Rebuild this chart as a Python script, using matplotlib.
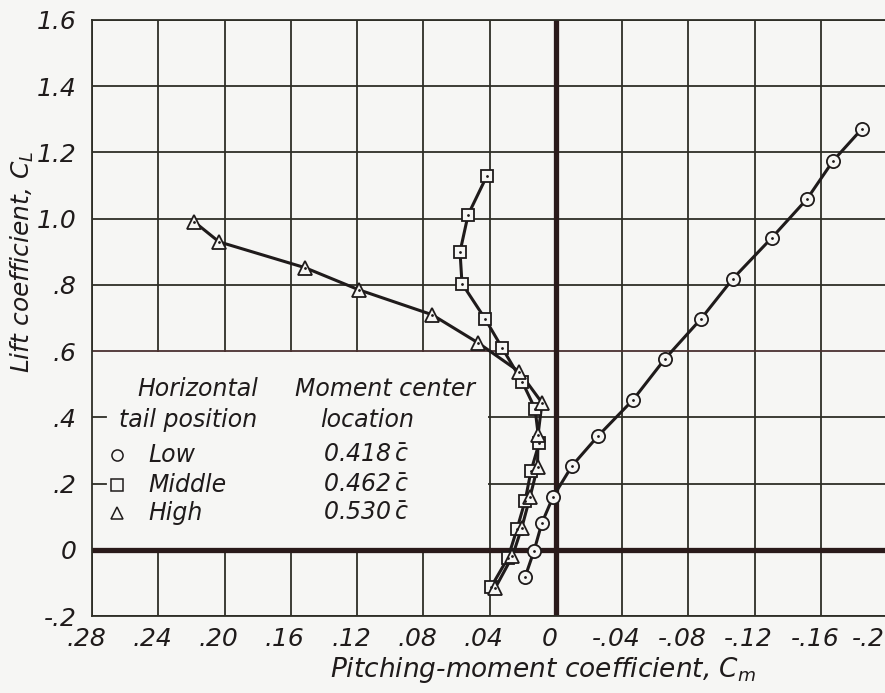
import matplotlib
matplotlib.use('Agg')
import matplotlib.pyplot as plt
from matplotlib.patches import Rectangle
from matplotlib.transforms import ScaledTranslation

# ---------------- data ----------------
low_cm = [0.0185, 0.0131, 0.0083, 0.0016, -0.0099, -0.0256, -0.0467, -0.0660,
          -0.0878, -0.1070, -0.1306, -0.1518, -0.1675, -0.1850]
low_cl = [-0.082, -0.003, 0.082, 0.160, 0.254, 0.344, 0.453, 0.577,
          0.698, 0.819, 0.943, 1.060, 1.175, 1.272]

mid_cm = [0.0390, 0.0288, 0.0234, 0.0185, 0.0149, 0.0100, 0.0125, 0.0203,
          0.0324, 0.0427, 0.0566, 0.0578, 0.0529, 0.0415]
mid_cl = [-0.112, -0.024, 0.063, 0.148, 0.239, 0.323, 0.426, 0.508,
          0.610, 0.698, 0.804, 0.900, 1.012, 1.130]

high_cm = [0.0365, 0.0262, 0.0205, 0.0155, 0.0110, 0.0107, 0.0083, 0.0221,
           0.0469, 0.0747, 0.1188, 0.1514, 0.2033, 0.2184]
high_cl = [-0.115, -0.020, 0.067, 0.160, 0.250, 0.347, 0.444, 0.538,
           0.625, 0.710, 0.785, 0.852, 0.930, 0.991]

x_ticks = [0.28, 0.24, 0.20, 0.16, 0.12, 0.08, 0.04, 0.0, -0.04, -0.08, -0.12, -0.16, -0.20]
x_tick_labels = ['.28', '.24', '.20', '.16', '.12', '.08', '.04', '0',
                 '-.04', '-.08', '-.12', '-.16', '-.2']
y_ticks = [-0.2, 0.0, 0.2, 0.4, 0.6, 0.8, 1.0, 1.2, 1.4, 1.6]
y_tick_labels = ['-.2', '0', '.2', '.4', '.6', '.8', '1.0', '1.2', '1.4', '1.6']

legend_names = ['Low', 'Middle', 'High']
legend_centers = [r'0.418$\,\bar{c}$', r'0.462$\,\bar{c}$', r'0.530$\,\bar{c}$']
legend_markers = ['o', 's', '^']

# ---------------- style ----------------
bg = '#f6f6f4'
ink = '#1f1b1b'
grid_c = '#2e2e26'
W, H = 885, 693

fig = plt.figure(figsize=(W / 100, H / 100), dpi=100)
fig.patch.set_facecolor(bg)
ax = fig.add_axes([92 / W, 1 - 616 / H, (887 - 92) / W, (616 - 20) / H])
ax.set_facecolor(bg)
ax.set_xlim(0.28, -0.20)
ax.set_ylim(-0.2, 1.6)

# grid
for xv in x_ticks:
    if xv != 0.0:
        ax.axvline(xv, color=grid_c, lw=1.3, zorder=1)
for yv in y_ticks:
    if yv != 0.0:
        ax.axhline(yv, color='#4a3030' if yv == 0.6 else grid_c, lw=1.3, zorder=1)

# blank area behind the key
ax.add_patch(Rectangle((0.0412, 0.004), 0.28 - 0.0412, 0.596 - 0.004,
                       facecolor=bg, edgecolor='none', zorder=1.5))
for yv in (0.2, 0.4):
    ax.plot([0.28, 0.2715], [yv, yv], color=grid_c, lw=1.3, zorder=1.6)

# heavy axes
ax.axhline(0.0, color='#2a1a1a', lw=3.8, zorder=2)
ax.axvline(0.0, color='#2a1a1a', lw=3.8, zorder=2)

for sp in ax.spines.values():
    sp.set_color(grid_c)
    sp.set_linewidth(1.3)

# curves
series = [(low_cm, low_cl, 'o', 9.5), (mid_cm, mid_cl, 's', 8.5), (high_cm, high_cl, '^', 9.5)]
for cm, cl, mk, ms in series:
    ax.plot(cm, cl, color=ink, lw=2.2, zorder=3)
for cm, cl, mk, ms in series:
    ax.plot(cm, cl, ls='none', marker=mk, ms=ms, mfc=bg, mec=ink, mew=1.3, zorder=4)
    ax.plot(cm, cl, ls='none', marker='.', ms=2, color=ink, zorder=5)

# ticks
ax.set_xticks(x_ticks)
ax.set_xticklabels(x_tick_labels)
ax.set_yticks(y_ticks)
ax.set_yticklabels(y_tick_labels)
ax.tick_params(axis='both', length=0, labelsize=18, colors=ink)
ax.tick_params(axis='x', pad=8)
ax.tick_params(axis='y', pad=11)
for lab in ax.get_xticklabels() + ax.get_yticklabels():
    lab.set_fontstyle('italic')
xlabs = ax.get_xticklabels()
for i, lab in enumerate(xlabs):
    dx = -6 if i < len(xlabs) - 1 else -19
    lab.set_transform(lab.get_transform() + ScaledTranslation(dx / 100, 0, fig.dpi_scale_trans))

# axis titles
fig.text(22 / W, 1 - 262 / H, 'Lift coefficient, $C_L$', rotation=90,
         ha='center', va='center', fontsize=18, style='italic', color=ink)
fig.text(543 / W, 1 - 670 / H, 'Pitching-moment coefficient, $C_m$',
         ha='center', va='center', fontsize=19, style='italic', color=ink)

# key
fs = 17
fig.text(137 / W, 1 - 389 / H, 'Horizontal', ha='left', va='center', fontsize=fs, style='italic', color=ink)
fig.text(119 / W, 1 - 420 / H, 'tail position', ha='left', va='center', fontsize=fs, style='italic', color=ink)
fig.text(295 / W, 1 - 389 / H, 'Moment center', ha='left', va='center', fontsize=fs, style='italic', color=ink)
fig.text(320 / W, 1 - 420 / H, 'location', ha='left', va='center', fontsize=fs, style='italic', color=ink)
key_y = [455, 485, 513]
for name, cen, mk, py in zip(legend_names, legend_centers, legend_markers, key_y):
    fig.lines.append(plt.Line2D([117 / W], [1 - py / H], transform=fig.transFigure,
                                ls='none', marker=mk, ms=8, mfc=bg, mec=ink, mew=1.1))
    fig.text(148 / W, 1 - py / H, name, ha='left', va='center', fontsize=fs, style='italic', color=ink)
    fig.text(323 / W, 1 - py / H, cen, ha='left', va='center', fontsize=fs, style='italic', color=ink)

fig.savefig('out.png', dpi=100, facecolor=bg)
